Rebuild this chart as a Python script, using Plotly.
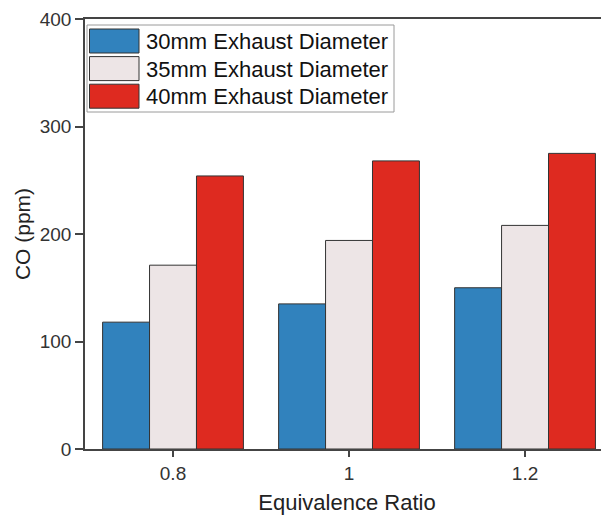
import plotly.graph_objects as go

categories = ["0.8", "1", "1.2"]
series_names = ["30mm Exhaust Diameter", "35mm Exhaust Diameter", "40mm Exhaust Diameter"]
co_30mm = [118, 135, 150]
co_35mm = [171, 194, 208]
co_40mm = [254, 268, 275]
y_ticks = [0, 100, 200, 300, 400]

colors = ["#3182BD", "#EDE5E6", "#DE2A20"]
series_values = [co_30mm, co_35mm, co_40mm]

FONT = "Arial, Liberation Sans, sans-serif"
# page body adds an 8px offset; size the figure so the plot lands where the reference has it
OFF = 8
W, H = 609 - OFF, 517 - OFF
L, R, T, B = 85 - OFF, 0, 19 - OFF, 68
PW, PH = W - L - R, H - T - B

fig = go.Figure()
for name, vals, col in zip(series_names, series_values, colors):
    fig.add_trace(go.Bar(
        x=categories, y=vals, name=name,
        marker=dict(color=col, line=dict(color="#333333", width=1)),
        showlegend=False,
    ))

def px_x(px):
    return (px - OFF - L) / PW

def px_y(py):
    return (H - B - (py - OFF)) / PH

shapes = []
annotations = []
shapes.append(dict(type="rect", xref="paper", yref="paper",
                   x0=px_x(87), x1=px_x(394), y0=px_y(112), y1=px_y(25),
                   line=dict(color="#9a9a9a", width=1), fillcolor="white", layer="above"))
for i, (name, col) in enumerate(zip(series_names, colors)):
    top = 29 + i * 27.6
    shapes.append(dict(type="rect", xref="paper", yref="paper",
                       x0=px_x(89.5), x1=px_x(139), y0=px_y(top + 24), y1=px_y(top),
                       line=dict(color="#333333", width=1), fillcolor=col, layer="above"))
    annotations.append(dict(xref="paper", yref="paper", x=px_x(143.5), y=px_y(top + 12.5),
                            text=name, showarrow=False, xanchor="left", yanchor="middle",
                            font=dict(family=FONT, size=22, color="#111111")))

fig.update_layout(
    width=W, height=H,
    margin=dict(l=L, r=R, t=T, b=B, pad=0),
    paper_bgcolor="white", plot_bgcolor="white",
    barmode="group", bargap=0.2, bargroupgap=0,
    shapes=shapes, annotations=annotations,
    font=dict(family=FONT, color="#333333"),
)
fig.update_xaxes(
    type="category", range=[-0.5, 2.477],
    showline=True, linecolor="#444444", linewidth=1.5, mirror=True,
    ticks="outside", ticklen=6, tickwidth=1.5, tickcolor="#444444",
    tickfont=dict(family=FONT, size=19, color="#333333"),
    showgrid=False, zeroline=False,
    title=dict(text="Equivalence Ratio", font=dict(family=FONT, size=22, color="#222222"), standoff=12),
)
fig.update_yaxes(
    range=[0, 400], tickvals=y_ticks,
    showline=True, linecolor="#444444", linewidth=1.5,
    ticks="outside", ticklen=8, tickwidth=1.5, tickcolor="#444444",
    tickfont=dict(family=FONT, size=19, color="#333333"),
    showgrid=False, zeroline=False,
    title=dict(text="CO (ppm)", font=dict(family=FONT, size=21, color="#222222"), standoff=3),
)
fig.write_html("out.html")
